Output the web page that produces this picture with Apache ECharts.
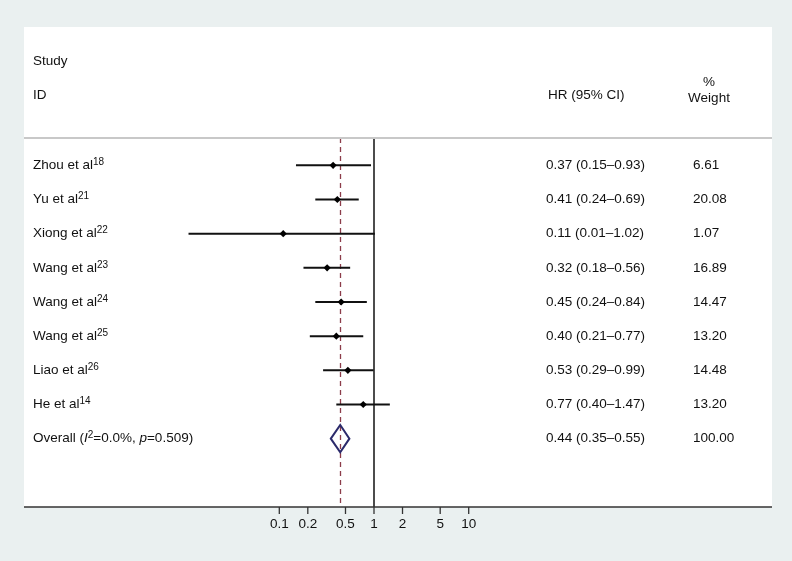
<!DOCTYPE html>
<html><head><meta charset="utf-8">
<script src="https://cdn.jsdelivr.net/npm/echarts@6/dist/echarts.min.js"></script>
<style>html,body{margin:0;padding:0;background:#eaf0f0}#c{width:792px;height:561px}</style>
</head><body><div id="c"></div>
<script>
const studies = ['Zhou et al','Yu et al','Xiong et al','Wang et al','Wang et al','Wang et al','Liao et al','He et al'];
const refs = ['18','21','22','23','24','25','26','14'];
const hr = [0.37,0.41,0.11,0.32,0.45,0.40,0.53,0.77];
const lo = [0.15,0.24,0.011,0.18,0.24,0.21,0.29,0.40];
const hi = [0.93,0.69,1.02,0.56,0.84,0.77,0.99,1.47];
const weights = ['6.61','20.08','1.07','16.89','14.47','13.20','14.48','13.20'];
const overallHR = 0.44, overallLo = 0.35, overallHi = 0.55, overallWeight = '100.00';
const overallI2 = '0.0%', overallP = '0.509';
const tickValues = [0.1,0.2,0.5,1,2,5,10];
const tickLabels = ['0.1','0.2','0.5','1','2','5','10'];

const FONT = 'Liberation Sans, Arial, sans-serif';
const FS = 13.5;
const fmt = v => v.toFixed(2);
const nRows = studies.length;

const rich = {
  n: {fontSize: FS, fontFamily: FONT, fill: '#111111', color:'#111111', lineHeight: 16},
  s: {fontSize: 10, fontFamily: FONT, fill: '#111111', color:'#111111', verticalAlign: 'top', lineHeight: 16},
  i: {fontSize: FS, fontFamily: FONT, fill: '#111111', color:'#111111', fontStyle: 'italic', lineHeight: 16}
};

const chart = echarts.init(document.getElementById('c'), null, {renderer: 'canvas'});

const rowData = studies.map((s, i) => [lo[i], hi[i], hr[i], i]);

chart.setOption({
  backgroundColor: '#eaf0f0',
  animation: false,
  graphic: [
    {type: 'rect', z: 0, shape: {x: 24, y: 27, width: 748, height: 480}, style: {fill: '#ffffff'}},
    {type: 'line', z: 50, shape: {x1: 24, y1: 138, x2: 772, y2: 138}, style: {stroke: '#c8c8c8', lineWidth: 2}},
    {type: 'line', z: 50, shape: {x1: 24, y1: 507, x2: 772, y2: 507}, style: {stroke: '#333333', lineWidth: 1.6}},
    {type: 'text', z: 50, style: {x: 33, y: 61, text: 'Study', font: FS + 'px ' + FONT, fill: '#111111', verticalAlign: 'middle'}},
    {type: 'text', z: 50, style: {x: 33, y: 95, text: 'ID', font: FS + 'px ' + FONT, fill: '#111111', verticalAlign: 'middle'}},
    {type: 'text', z: 50, style: {x: 548, y: 95, text: 'HR (95% CI)', font: FS + 'px ' + FONT, fill: '#111111', verticalAlign: 'middle'}},
    {type: 'text', z: 50, style: {x: 709, y: 82, text: '%', font: FS + 'px ' + FONT, fill: '#111111', align: 'center', verticalAlign: 'middle'}},
    {type: 'text', z: 50, style: {x: 709, y: 98, text: 'Weight', font: FS + 'px ' + FONT, fill: '#111111', align: 'center', verticalAlign: 'middle'}}
  ],
  grid: {left: 89.9, width: 473.5, top: 138, height: 369},
  xAxis: {type: 'log', logBase: 10, min: 0.001, max: 100, show: false},
  yAxis: {type: 'value', inverse: true, min: -0.8, max: 10, show: false},
  series: [
    {
      type: 'custom', name: 'studies', z: 10,
      data: rowData,
      renderItem: function (params, api) {
        const a = api.coord([api.value(0), api.value(3)]);
        const b = api.coord([api.value(1), api.value(3)]);
        const c = api.coord([api.value(2), api.value(3)]);
        const r = 3.6;
        return {type: 'group', children: [
          {type: 'line', shape: {x1: a[0], y1: a[1], x2: b[0], y2: b[1]}, style: {stroke: '#111111', lineWidth: 2}},
          {type: 'polygon', shape: {points: [[c[0], c[1]-r],[c[0]+r, c[1]],[c[0], c[1]+r],[c[0]-r, c[1]]]}, style: {fill: '#000000'}}
        ]};
      },
      markLine: {
        symbol: 'none', silent: true, label: {show: false},
        data: [
          {xAxis: 1, lineStyle: {color: '#111111', width: 1.5, type: 'solid'}},
          {xAxis: overallHR, lineStyle: {color: '#8c3c4a', width: 1.3, type: [5, 4]}}
        ]
      }
    },
    {
      type: 'custom', name: 'overall', z: 11,
      data: [[overallLo, overallHi, overallHR, nRows]],
      renderItem: function (params, api) {
        const row = api.value(3);
        const l = api.coord([api.value(0), row]);
        const h = api.coord([api.value(1), row]);
        const t = api.coord([api.value(2), row - 0.4]);
        const bt = api.coord([api.value(2), row + 0.4]);
        return {type: 'polygon', shape: {points: [l, t, h, bt]}, style: {fill: 'rgba(255,255,255,0)', stroke: '#2b2a6b', lineWidth: 2}};
      }
    },
    {
      type: 'custom', name: 'labels', z: 12,
      data: studies.map((s, i) => [1, i]).concat([[1, nRows]]),
      renderItem: function (params, api) {
        const i = params.dataIndex;
        const y = api.coord([1, api.value(1)])[1];
        let left, ci, w;
        if (i < nRows) {
          left = '{n|' + studies[i] + '}{s|' + refs[i] + '}';
          ci = fmt(hr[i]) + ' (' + fmt(lo[i]) + '–' + fmt(hi[i]) + ')';
          w = weights[i];
        } else {
          left = '{n|Overall (}{i|I}{s|2}{n|=' + overallI2 + ', }{i|p}{n|=' + overallP + ')}';
          ci = fmt(overallHR) + ' (' + fmt(overallLo) + '–' + fmt(overallHi) + ')';
          w = overallWeight;
        }
        return {type: 'group', children: [
          {type: 'text', style: {x: 33, y: y, text: left, rich: rich, verticalAlign: 'middle', align: 'left'}},
          {type: 'text', style: {x: 546, y: y, text: ci, font: FS + 'px ' + FONT, fill: '#111111', verticalAlign: 'middle', align: 'left'}},
          {type: 'text', style: {x: 693, y: y, text: w, font: FS + 'px ' + FONT, fill: '#111111', verticalAlign: 'middle', align: 'left'}}
        ]};
      }
    },
    {
      type: 'custom', name: 'ticks', z: 60,
      data: tickValues.map((v, i) => [v, i]),
      renderItem: function (params, api) {
        const p = api.coord([api.value(0), 10]);
        return {type: 'group', children: [
          {type: 'line', shape: {x1: p[0], y1: p[1], x2: p[0], y2: p[1] + 7}, style: {stroke: '#333333', lineWidth: 1.3}},
          {type: 'text', style: {x: p[0], y: p[1] + 17.5, text: tickLabels[api.value(1)], font: FS + 'px ' + FONT, fill: '#111111', align: 'center', verticalAlign: 'middle'}}
        ]};
      }
    }
  ]
});
</script></body></html>
